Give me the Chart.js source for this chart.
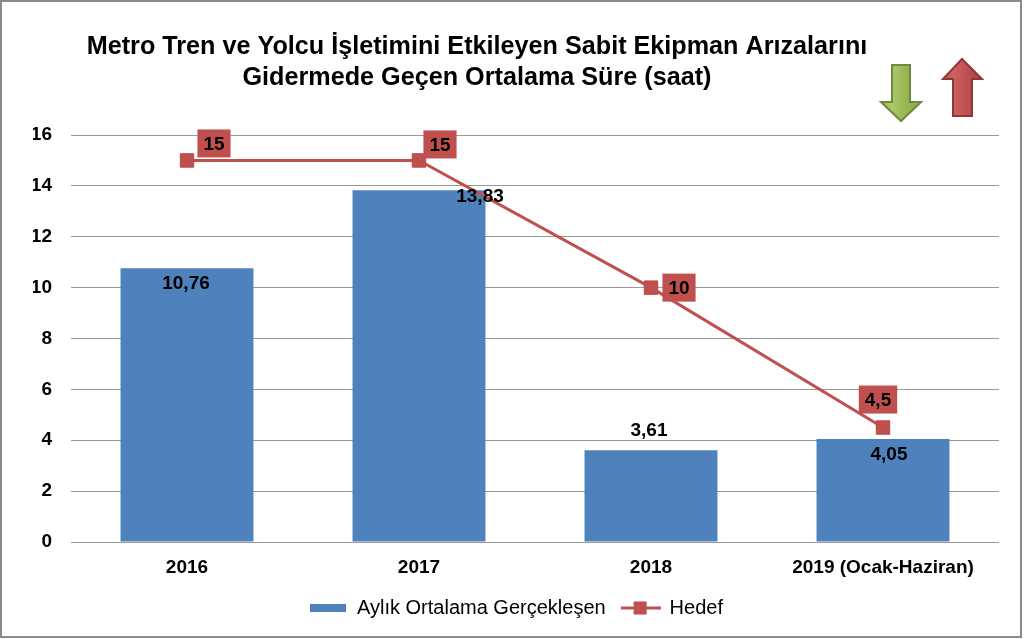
<!DOCTYPE html>
<html><head><meta charset="utf-8">
<script src="https://cdn.jsdelivr.net/npm/chart.js@4/dist/chart.umd.min.js"></script>
<style>html,body{margin:0;padding:0;background:#fff;overflow:hidden}#wrap{width:1024px;height:639px;position:relative}</style>
</head><body><div id="wrap"><canvas id="c" width="1024" height="639"></canvas></div>
<script>
const titleLines = ['Metro Tren ve Yolcu İşletimini Etkileyen Sabit Ekipman Arızalarını', 'Gidermede Geçen Ortalama Süre (saat)'];
const categories = ['2016', '2017', '2018', '2019 (Ocak-Haziran)'];
const actualValues = [10.76, 13.83, 3.61, 4.05];
const targetValues = [15, 15, 10, 4.5];
const seriesNames = ['Aylık Ortalama Gerçekleşen', 'Hedef'];
const yMin = 0, yMax = 16, yStep = 2;

const FONT = '"Liberation Sans", Arial, sans-serif';
const BLUE = '#4f81bd', RED = '#c0504d';
const fmt = v => String(v).replace('.', ',');

function makeSwatch(kind){
  const c = document.createElement('canvas');
  if(kind === 'bar'){ c.width = 36; c.height = 8; const x = c.getContext('2d'); x.fillStyle = BLUE; x.fillRect(0,0,36,8); }
  else { c.width = 40; c.height = 14; const x = c.getContext('2d'); x.fillStyle = RED; x.fillRect(0,5.5,40,3); x.fillRect(13,0.5,13,13); }
  return c;
}
const swatches = [makeSwatch('bar'), makeSwatch('line')];

const decoPlugin = {
  id: 'deco',
  beforeDraw(chart){
    const ctx = chart.ctx; ctx.save(); ctx.fillStyle = '#fff'; ctx.fillRect(0,0,chart.width,chart.height); ctx.restore();
  },
  afterDatasetsDraw(chart, args, opts){
    const ctx = chart.ctx; ctx.save();
    ctx.font = 'bold 19px ' + FONT; ctx.textAlign = 'center'; ctx.textBaseline = 'middle';
    const bm = chart.getDatasetMeta(0);
    bm.data.forEach((el,i)=>{ const o = opts.barOffsets[i]; ctx.fillStyle = '#000'; ctx.fillText(fmt(chart.data.datasets[0].data[i]), el.x + o[0], el.y + o[1]); });
    const lm = chart.getDatasetMeta(1);
    lm.data.forEach((el,i)=>{ const o = opts.lineOffsets[i]; const t = fmt(chart.data.datasets[1].data[i]);
      const w = ctx.measureText(t).width + 12, h = 28, cx = el.x + o[0], cy = el.y + o[1];
      ctx.fillStyle = RED; ctx.fillRect(cx - w/2, cy - h/2, w, h); ctx.fillStyle = '#000'; ctx.fillText(t, cx, cy + 1); });
    ctx.restore();
  },
  afterDraw(chart, args, opts){
    const ctx = chart.ctx; ctx.save();
    // title
    ctx.font = 'bold 25.2px ' + FONT; ctx.fillStyle = '#000'; ctx.textAlign = 'center'; ctx.textBaseline = 'middle';
    titleLines.forEach((t,i)=> ctx.fillText(t, opts.titleX, opts.titleY + i*31));
    // arrows
    function arrow(pts, c1, c2, stroke){
      const g = ctx.createLinearGradient(pts[0][0]-20, 0, pts[0][0]+20, 0); g.addColorStop(0,c1); g.addColorStop(0.5,c2); g.addColorStop(1,c1);
      ctx.beginPath(); pts.forEach((p,i)=> i ? ctx.lineTo(p[0],p[1]) : ctx.moveTo(p[0],p[1])); ctx.closePath();
      ctx.fillStyle = g; ctx.fill(); ctx.lineWidth = 2; ctx.strokeStyle = stroke; ctx.stroke();
    }
    arrow([[892,65],[910,65],[910,102],[921,102],[901,121],[881,102],[892,102]], '#8fb04c', '#a9c86a', '#71893f');
    arrow([[953,116],[953,79],[943,79],[962,59],[982,79],[972,79],[972,116]], '#b8474a', '#cf6360', '#8c3836');
    // frame
    ctx.strokeStyle = '#8a8a8a'; ctx.lineWidth = 2; ctx.strokeRect(1,1,1020,636);
    ctx.restore();
  }
};

new Chart(document.getElementById('c'), {
  type: 'bar',
  data: {
    labels: categories,
    datasets: [
      { type: 'bar', label: seriesNames[0], data: actualValues, backgroundColor: BLUE, borderWidth: 0, categoryPercentage: 1, barPercentage: 0.573, order: 1 },
      { type: 'line', label: seriesNames[1], data: targetValues, borderColor: RED, backgroundColor: RED, borderWidth: 3, pointStyle: 'rect', pointRadius: 9.5, pointBackgroundColor: RED, pointBorderColor: '#b5494a', pointBorderWidth: 1, tension: 0, order: 0 }
    ]
  },
  options: {
    responsive: false, animation: false, devicePixelRatio: 1,
    layout: { padding: { top: 135, right: 25, bottom: 11, left: 33 } },
    plugins: {
      title: { display: false }, tooltip: { enabled: false },
      legend: { position: 'bottom', labels: { usePointStyle: true, pointStyleWidth: 38, padding: 16, color: '#000', font: { family: FONT, size: 20 },
        sort: (a,b) => a.datasetIndex - b.datasetIndex,
        generateLabels(chart){ const items = Chart.defaults.plugins.legend.labels.generateLabels(chart); items.forEach(it=>{ it.pointStyle = swatches[it.datasetIndex]; it.lineWidth = 0; }); return items; } } },
      deco: { titleX: 477, titleY: 47,
        barOffsets: [[-1,15],[61,7],[-2,-19],[6,16]],
        lineOffsets: [[27,-17],[21,-16],[28,0],[-5,-28]] }
    },
    scales: {
      x: { grid: { display: false, drawTicks: false }, border: { display: false },
        ticks: { color: '#000', font: { family: FONT, size: 19, weight: 'bold' }, padding: 14 },
        afterFit(s){ s.height = 40; } },
      y: { min: yMin, max: yMax, grid: { color: '#999999', lineWidth: 1, drawTicks: false }, border: { display: false },
        ticks: { stepSize: yStep, color: '#000', font: { family: FONT, size: 19, weight: 'bold' }, padding: 19 },
        afterFit(s){ s.width = 38; } }
    }
  },
  plugins: [decoPlugin]
});
</script></body></html>
